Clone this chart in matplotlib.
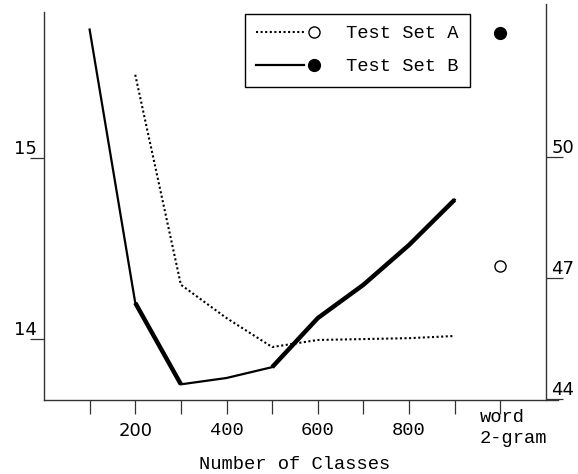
import matplotlib.pyplot as plt
import matplotlib.transforms as mtransforms
from matplotlib.lines import Line2D
from matplotlib.legend_handler import HandlerTuple

# --- data ---
classes = [100, 200, 300, 400, 500, 600, 700, 800, 900]
test_b = [15.71, 14.20, 13.75, 13.785, 13.845, 14.116, 14.30, 14.52, 14.77]
classes_a = [200, 300, 400, 500, 600, 700, 800, 900]
test_a = [15.46, 14.30, 14.116, 13.956, 13.995, 14.0, 14.005, 14.017]
word2gram_x = 1000
word2gram_a = 47.29
word2gram_b = 53.09

x_ticks = [100, 200, 300, 400, 500, 600, 700, 800, 900, 1000]
x_tick_labels = ["", "200", "", "400", "", "600", "", "800", "", ""]
left_ticks = [14, 15]
right_ticks = [44, 47, 50]

mono = "Liberation Mono"
sans = "DejaVu Sans"
spine_col = "#333333"

fig = plt.figure(figsize=(5.78, 4.74), dpi=100)
ax = fig.add_axes([0.0761, 0.1571, 0.8685, 0.8345])
ax2 = ax.twinx()

# Test Set B: thin line with thicker runs
ax.plot(classes, test_b, color="black", lw=1.6, solid_joinstyle="miter")
ax.plot(classes[1:3], test_b[1:3], color="black", lw=3.2, solid_capstyle="butt")
ax.plot(classes[4:], test_b[4:], color="black", lw=3.2, solid_capstyle="butt")
# Test Set A: fine dotted line
ax.plot(classes_a, test_a, color="black", lw=1.5, linestyle=(0, (1, 1.2)))

# word 2-gram points on the right axis
ax2.plot([word2gram_x], [word2gram_b], "o", color="black", ms=8.5)
ax2.plot([word2gram_x], [word2gram_a], "o", mfc="white", mec="black", ms=8, mew=1)

ax.set_xlim(0, 1100)
ax.set_ylim(13.666, 15.851)
ax2.set_ylim(43.99, 53.8)

# spines
for s in ["top", "right"]:
    ax.spines[s].set_visible(False)
for s in ["top", "left", "bottom"]:
    ax2.spines[s].set_visible(False)
ax.spines["left"].set_bounds(13.666, 15.807)
ax.spines["bottom"].set_bounds(0, 1126)
for sp in [ax.spines["left"], ax.spines["bottom"], ax2.spines["right"]]:
    sp.set_color(spine_col)
    sp.set_linewidth(1)

# x ticks
ax.set_xticks(x_ticks, x_tick_labels)
ax.tick_params(axis="x", direction="out", length=10, width=0.9, color=spine_col, pad=6)
for lab in ax.get_xticklabels():
    if lab.get_text() == "200":
        lab.set_fontfamily(sans)
        lab.set_fontsize(13)
    else:
        lab.set_fontfamily(mono)
        lab.set_fontsize(13.5)

ax.text(word2gram_x, 0, "word\n2-gram", family=mono, fontsize=13.5, ha="left", va="top",
        linespacing=1.35,
        transform=ax.get_xaxis_transform()
        + mtransforms.ScaledTranslation(-0.21, -0.09, fig.dpi_scale_trans))

# left y ticks
ax.set_yticks(left_ticks, [str(t) for t in left_ticks], va="bottom", family=sans, fontsize=13)
ax.tick_params(axis="y", direction="out", length=10, width=0.9, color=spine_col, pad=-5)

# right y ticks
ax2.set_yticks(right_ticks, [str(t) for t in right_ticks], va="bottom", family=sans, fontsize=13)
ax2.tick_params(axis="y", direction="out", length=12, width=0.9, color=spine_col, pad=-8)

ax.set_xlabel("Number of Classes", family=mono, fontsize=13.5, va="top")
ax.xaxis.set_label_coords(0.5, -0.142)

# legend: line followed by marker
line_a = Line2D([], [], color="black", lw=1.5, linestyle=(0, (1, 1.2)))
mark_a = Line2D([], [], marker="o", ls="none", mfc="white", mec="black", ms=8, mew=1)
line_b = Line2D([], [], color="black", lw=1.6)
mark_b = Line2D([], [], marker="o", ls="none", color="black", ms=8.5)
leg = ax.legend([(line_a, mark_a), (line_b, mark_b)], ["Test Set A", "Test Set B"],
                handler_map={tuple: HandlerTuple(ndivide=2, pad=-0.75)},
                prop={"family": mono, "size": 13.5},
                loc="upper left", bbox_to_anchor=(245 / 578, 1 - 14 / 474),
                bbox_transform=fig.transFigure, borderaxespad=0,
                handlelength=4.37, handletextpad=0.43, borderpad=0.6,
                labelspacing=0.85, fancybox=False, framealpha=1, edgecolor="black")
leg.get_frame().set_linewidth(1)

fig.savefig("out.png", dpi=100)
